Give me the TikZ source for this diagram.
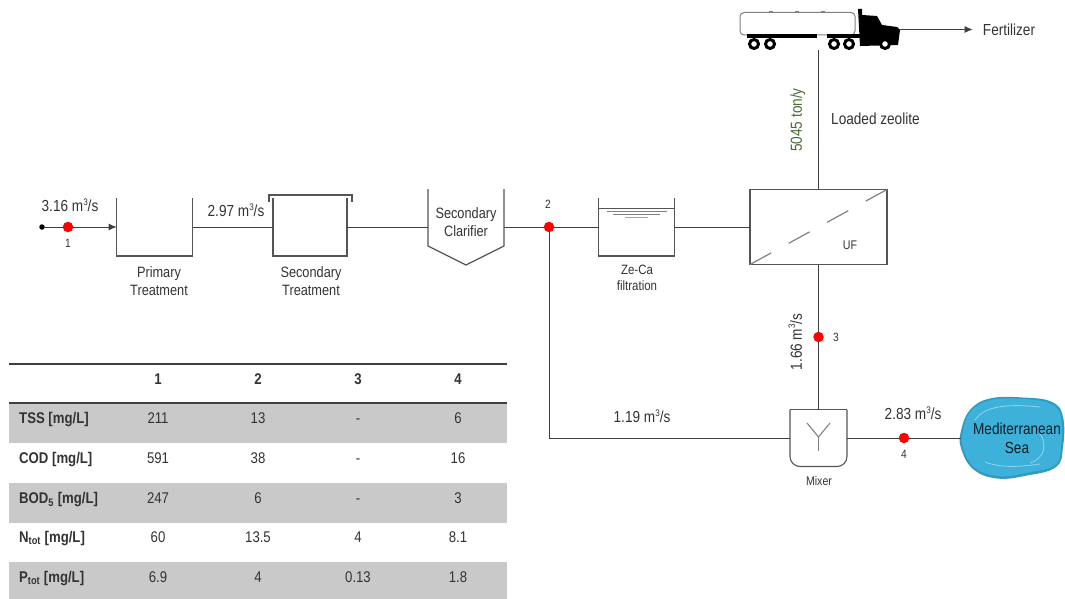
\documentclass[tikz,border=0pt]{standalone}
\usepackage{fontspec}
\usetikzlibrary{arrows.meta}
\setmainfont[FakeStretch=0.85]{Liberation Sans}
\newcommand{\cubic}{m\raisebox{0.42em}{\fontsize{9.5}{9}\selectfont 3}}
\definecolor{linegrey}{HTML}{3F3F3F}
\definecolor{vesselgrey}{HTML}{555555}
\definecolor{bandgrey}{HTML}{C9C9C9}
\definecolor{inkgrey}{HTML}{333333}
\definecolor{flowgreen}{HTML}{4A6B30}
\definecolor{seablue}{HTML}{3DB1DA}
\definecolor{seaedge}{HTML}{2F9AC2}
\begin{document}
\begin{tikzpicture}[x=1pt, y=-1pt, node distance=100pt,
    pipe/.style={draw=linegrey, line width=1pt},
    vessel/.style={draw=vesselgrey, line width=1.2pt},
    unit/.style={rectangle, inner sep=0pt, outer sep=0pt, minimum height=58pt},
    sample/.style={circle, fill=red, inner sep=0pt, outer sep=0pt, minimum size=10.5pt},
    flow/.style={text=inkgrey, inner sep=0pt, text height=11.5pt, text depth=0pt, font=\fontsize{16}{18}\selectfont},
    proc/.style={text=inkgrey, inner sep=0pt, align=center, font=\fontsize{15}{18}\selectfont},
    tag/.style={text=inkgrey, inner sep=0pt, font=\fontsize{12}{12}\selectfont},
    cell/.style={text=inkgrey, inner sep=0pt, text height=11pt, text depth=0pt, font=\fontsize{15.5}{17}\selectfont},
    rowname/.style={cell, anchor=west, font=\fontsize{15.5}{17}\selectfont\bfseries},
    colname/.style={cell, font=\fontsize{15.5}{17}\selectfont\bfseries}]

    \useasboundingbox (0,0) rectangle (1065,599);

    \fill[bandgrey] (9,403) rectangle (507,443);
    \fill[bandgrey] (9,483) rectangle (507,523);
    \fill[bandgrey] (9,562) rectangle (507,599);
    \draw[linegrey, line width=1.2pt] (9,364) -- (507,364);
    \draw[linegrey, line width=1.2pt] (9,403) -- (507,403);

    \node[colname] (h1) at (158,379) {1};
    \node[colname, right of=h1] (h2) {2};
    \node[colname, right of=h2] (h3) {3};
    \node[colname, right of=h3] (h4) {4};

    \node[rowname] (tss) at (19,418) {TSS [mg/L]};
    \node[cell] (tss1) at (158,418) {211};
    \node[cell, right of=tss1] (tss2) {13};
    \node[cell, right of=tss2] (tss3) {-};
    \node[cell, right of=tss3] (tss4) {6};

    \node[rowname] (cod) at (19,458) {COD [mg/L]};
    \node[cell] (cod1) at (158,458) {591};
    \node[cell, right of=cod1] (cod2) {38};
    \node[cell, right of=cod2] (cod3) {-};
    \node[cell, right of=cod3] (cod4) {16};

    \node[rowname] (bod) at (19,498) {BOD\textsubscript{5} [mg/L]};
    \node[cell] (bod1) at (158,498) {247};
    \node[cell, right of=bod1] (bod2) {6};
    \node[cell, right of=bod2] (bod3) {-};
    \node[cell, right of=bod3] (bod4) {3};

    \node[rowname] (ntot) at (19,537) {N\textsubscript{tot} [mg/L]};
    \node[cell] (ntot1) at (158,537) {60};
    \node[cell, right of=ntot1] (ntot2) {13.5};
    \node[cell, right of=ntot2] (ntot3) {4};
    \node[cell, right of=ntot3] (ntot4) {8.1};

    \node[rowname] (ptot) at (19,577) {P\textsubscript{tot} [mg/L]};
    \node[cell] (ptot1) at (158,577) {6.9};
    \node[cell, right of=ptot1] (ptot2) {4};
    \node[cell, right of=ptot2] (ptot3) {0.13};
    \node[cell, right of=ptot3] (ptot4) {1.8};

    \node[unit, minimum width=76pt] (prim) at (154.7,227) {};
    \node[unit, minimum width=74pt, right of=prim, node distance=155.3pt] (sec) {};
    \node[unit, minimum width=76pt, minimum height=76pt, right of=sec, node distance=156pt] (clar) {};
    \node[unit, minimum width=75.5pt, right of=clar, node distance=170.5pt] (ze) {};
    \node[unit, draw=vesselgrey, line width=1.2pt, minimum width=137pt, minimum height=75pt, right of=ze, node distance=182pt] (uf) {};
    \node[unit, minimum width=57pt, minimum height=57pt, below of=uf, node distance=211pt] (mix) {};
    \node[unit, minimum width=163pt, minimum height=41pt] (truck) at (818.5,29.5) {};

    \node[circle, fill=black, inner sep=0pt, minimum size=5.5pt] (start) at (42,227) {};
    \node[sample] (p1) at (68,227) {};
    \node[sample] (p2) at (549,227) {};
    \node[sample] (p3) at (818.5,337) {};
    \node[sample] (p4) at (904,438) {};

    \draw[vessel] (prim.north west) -- (prim.south west) -- (prim.south east) -- (prim.north east);
    \draw[vessel] (sec.north west) -- (sec.south west) -- (sec.south east) -- (sec.north east);
    \draw[vesselgrey, line width=1.1pt] (269,202) -- (269,195) -- (352,195) -- (352,202);
    \draw[vessel] (clar.north west) -- ++(0,57) -- (clar.south) -- ([yshift=19pt]clar.south east) -- (clar.north east);
    \draw[vessel] (ze.north west) -- (ze.south west) -- (ze.south east) -- (ze.north east);
    \draw[vesselgrey, line width=1pt] (ze.west |- 0,208) -- (ze.east |- 0,208);
    \draw[gray, line width=1pt] (607,211) -- (667,211);
    \draw[gray, line width=1pt] (613,214.5) -- (660,214.5);
    \draw[gray!70, line width=1pt] (625,217.5) -- (648,217.5);
    \draw[gray, line width=1.2pt, dash pattern=on 24pt off 20pt] (uf.south west) -- (uf.north east);

    \draw[vessel, line width=1.1pt, rounded corners=10pt] (mix.north west) -- (mix.south west) -- (mix.south east) -- (mix.north east);
    \draw[vessel, line width=1.1pt] (mix.north west) -- (mix.north east);
    \draw[gray, line width=1.1pt] (807,423) -- (818.5,437) -- (830,423);
    \draw[gray, line width=1.1pt] (818.5,437) -- (818.5,451);

    \draw[fill=white, draw=gray, line width=1pt, rounded corners=4pt] (740,12.5) rectangle (855,35);
    \fill[black] (747,34) rectangle (817,38);
    \fill[black] (827,34) rectangle (860,38);
    \draw[gray, line width=1pt] (769,11.5) -- (773,11.5);
    \draw[gray, line width=1pt] (795,11.5) -- (799,11.5);
    \draw[gray, line width=1pt] (821,11.5) -- (825,11.5);
    \fill[black] (858,9) -- (862,9) -- (862,15) -- (877,16) -- (882,25) -- (897,27) -- (900,30) -- (898,45) -- (860,46) -- cycle;
    \foreach \wheelx in {754,770,834,849,885} {
        \draw[fill=white, draw=black, line width=3pt] (\wheelx,44) circle (4.5pt);
    }

    \draw[pipe] (start) -- (p1);
    \draw[pipe, -{Latex[length=8pt,width=7pt]}] (p1) -- (prim.west);
    \draw[pipe] (prim.east) -- (sec.west);
    \draw[pipe] (sec.east) -- (clar.west);
    \draw[pipe] (clar.east) -- (p2);
    \draw[pipe] (p2) -- (ze.west);
    \draw[pipe] (ze.east) -- (uf.west);
    \draw[pipe] (uf.north) -- (truck.south);
    \draw[pipe] (uf.south) -- (p3);
    \draw[pipe] (p3) -- (mix.north);
    \draw[pipe] (p2) |- (mix.west);

    \fill[seaedge] plot[smooth cycle, tension=0.7] coordinates {(961,431) (970,410) (990,398.5) (1023,397.5) (1052,402) (1063,417) (1063,447) (1056,467) (1027,475.5) (997,478.5) (973,469) (961,448)};
    \fill[seablue] plot[smooth cycle, tension=0.7] coordinates {(963,431) (971,411) (991,400) (1023,399) (1051,404) (1061,418) (1061,446) (1055,465) (1026,473) (998,476) (974,467) (963,447)};
    \draw[white, opacity=0.4, line width=0.9pt] (975,420) .. controls (985,405) and (1010,404) .. (1040,407);
    \draw[white, opacity=0.4, line width=0.9pt] (1038,430) .. controls (1048,445) and (1045,458) .. (1030,463);
    \draw[white, opacity=0.4, line width=0.9pt] (985,462) .. controls (1000,468) and (1020,467) .. (1040,464);

    \node[unit, minimum width=112pt, minimum height=80pt, text=black!80!seaedge, align=center, font=\fontsize{16}{19}\selectfont] (sea) at (1017,438) {Mediterranean\\Sea};
    \draw[pipe] (mix.east) -- (p4);
    \draw[pipe] (p4) -- (sea.west);

    \node[flow, inner xsep=10pt] (fert) at (1009,29.5) {Fertilizer};
    \draw[pipe, -{Latex[length=8pt,width=7pt]}] (truck.east) -- (fert.west);

    \node[flow] (q1) at (70,206) {3.16 \cubic/s};
    \node[flow] (q2) at (236,211) {2.97 \cubic/s};
    \node[flow] (q3) at (796,342) [rotate=90] {1.66 \cubic/s};
    \node[flow] (q4) at (642,417) {1.19 \cubic/s};
    \node[flow] (q5) at (913,414) {2.83 \cubic/s};
    \node[flow, text=flowgreen] (ton) at (796,120) [rotate=90] {5045 ton/y};
    \node[flow, anchor=west] (zeo) at (831,119) {Loaded zeolite};

    \node[tag] (t1) at (68,243) {1};
    \node[tag] (t2) at (548,204) {2};
    \node[tag] (t3) at (836,337) {3};
    \node[tag] (t4) at (904,454) {4};

    \node[proc] (primtext) at (159,281) {Primary\\Treatment};
    \node[proc] (sectext) at (311,281) {Secondary\\Treatment};
    \node[proc] (clartext) at (466,222.5) {Secondary\\Clarifier};
    \node[proc, font=\fontsize{13.5}{16}\selectfont] (zetext) at (637,278) {Ze-Ca\\filtration};
    \node[proc, font=\fontsize{12.5}{14}\selectfont] (uftext) at (850,245) {UF};
    \node[proc, font=\fontsize{12.5}{14}\selectfont] (mixtext) at (819,481) {Mixer};
\end{tikzpicture}
\end{document}
